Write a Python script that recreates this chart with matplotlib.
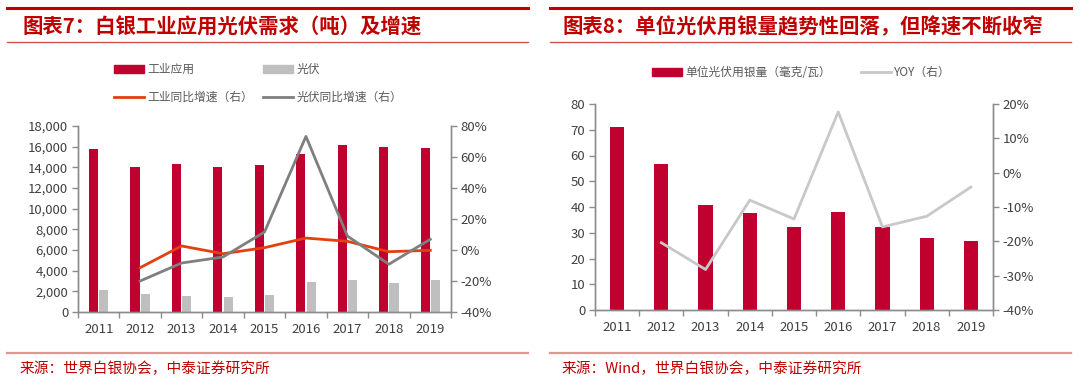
import numpy as np
import matplotlib
matplotlib.use("Agg")
import matplotlib.pyplot as plt
from matplotlib.lines import Line2D
from matplotlib.patches import Patch
from matplotlib.ticker import FuncFormatter, MultipleLocator

plt.rcParams['font.family'] = ['Liberation Sans Narrow', 'Noto Sans CJK SC', 'DejaVu Sans']
plt.rcParams['axes.unicode_minus'] = False

years = ['2011', '2012', '2013', '2014', '2015', '2016', '2017', '2018', '2019']

# chart 7: silver demand (tonnes) and growth
industrial = [15800, 14000, 14350, 14000, 14200, 15250, 16130, 15940, 15900]
pv = [2100, 1710, 1550, 1450, 1610, 2870, 3130, 2840, 3060]
industrial_yoy = [np.nan, -11.4, 2.6, -2.4, 1.5, 7.7, 5.6, -1.1, -0.2]
pv_yoy = [np.nan, -20.0, -8.4, -4.5, 11.6, 73.3, 9.0, -9.2, 6.9]

# chart 8: silver per watt (mg/W) and yoy
unit_silver = [71.1, 56.6, 40.6, 37.5, 32.4, 38.1, 32.1, 28.0, 26.7]
unit_yoy = [np.nan, -20.4, -28.2, -8.0, -13.5, 17.7, -15.8, -12.7, -4.2]

RED = '#C0002F'
GRAY_BAR = '#BFBFBF'
ORANGE = '#E2400F'
GRAY_LINE = '#7F7F7F'
LIGHT_LINE = '#C8C8C8'
TITLE_RED = '#C00000'
AX_COL = '#8C8C8C'
TXT = '#404040'
CJK = ['Noto Sans CJK SC', 'DejaVu Sans']

fig = plt.figure(figsize=(10.8, 3.87), dpi=100)
W, H = 1080.0, 387.0


def fx(px):
    return px / W


def fy(py):
    return 1 - py / H


def hline(x0, x1, y, color, lw):
    fig.add_artist(Line2D([fx(x0), fx(x1)], [fy(y), fy(y)], color=color, lw=lw,
                          transform=fig.transFigure))


# frame lines, titles, sources
for x0, x1 in [(7, 528), (550, 1071)]:
    hline(x0, x1, 8, '#C00000', 2.2)
    hline(x0, x1, 42, '#D9504F', 1.0)
    hline(x0, x1, 353, '#E39494', 1.6)

fig.text(fx(22), fy(27), '图表7：白银工业应用光伏需求（吨）及增速', color=TITLE_RED,
         fontsize=14.7, fontweight='bold', family=CJK, va='center', ha='left')
fig.text(fx(563), fy(27), '图表8：单位光伏用银量趋势性回落，但降速不断收窄', color=TITLE_RED,
         fontsize=14.7, fontweight='bold', family=CJK, va='center', ha='left')
fig.text(fx(20), fy(369), '来源：世界白银协会，中泰证券研究所', color='#C00000',
         fontsize=10.6, family=CJK, va='center', ha='left')
fig.text(fx(562), fy(369), '来源：Wind，世界白银协会，中泰证券研究所', color='#C00000',
         fontsize=10.6, family=CJK, va='center', ha='left')


def style_axes(ax, ax2):
    for a in (ax, ax2):
        a.spines['top'].set_visible(False)
        for s in ('left', 'right', 'bottom'):
            a.spines[s].set_color(AX_COL)
            a.spines[s].set_linewidth(1.0)
        a.tick_params(axis='y', colors=AX_COL, labelcolor=TXT, labelsize=9.5,
                      length=4, width=1.0, direction='out', pad=3)
    ax.set_xlim(-0.5, len(years) - 0.5)
    ax.set_xticks(np.arange(len(years)))
    ax.set_xticklabels(years)
    ax.set_xticks(np.arange(len(years) + 1) - 0.5, minor=True)
    ax.tick_params(axis='x', which='major', length=0, labelsize=9.5,
                   labelcolor=TXT, pad=8)
    ax.tick_params(axis='x', which='minor', length=4, color=AX_COL, width=1.0)


pct = FuncFormatter(lambda v, p: '%d%%' % round(v))

# ---- left chart ----
ax1 = fig.add_axes([fx(78), fy(312), fx(451) - fx(78), fy(126) - fy(312)])
ax1b = ax1.twinx()
x = np.arange(len(years))
bw = 0.22
ax1.bar(x - bw / 2 - 0.015, industrial, width=bw, color=RED)
ax1.bar(x + bw / 2 + 0.015, pv, width=bw, color=GRAY_BAR)
ax1.set_ylim(0, 18000)
ax1.yaxis.set_major_locator(MultipleLocator(2000))
ax1.yaxis.set_major_formatter(FuncFormatter(lambda v, p: '{:,.0f}'.format(v)))
ax1b.plot(x, industrial_yoy, color=ORANGE, lw=2.0)
ax1b.plot(x, pv_yoy, color=GRAY_LINE, lw=2.0)
ax1b.set_ylim(-40, 80)
ax1b.yaxis.set_major_locator(MultipleLocator(20))
ax1b.yaxis.set_major_formatter(pct)
style_axes(ax1, ax1b)

leg1 = fig.legend(handles=[Patch(color=RED), Line2D([], [], color=ORANGE, lw=2),
                           Patch(color=GRAY_BAR), Line2D([], [], color=GRAY_LINE, lw=2)],
                  labels=['工业应用', '工业同比增速（右）', '光伏', '光伏同比增速（右）'],
                  ncol=2, loc='upper left', bbox_to_anchor=(fx(114), fy(63)),
                  frameon=False, prop={'family': CJK, 'size': 8.5},
                  handlelength=2.5, handleheight=0.6, handletextpad=0.3,
                  columnspacing=0.9, labelspacing=1.25, borderpad=0, borderaxespad=0)
for t in leg1.get_texts():
    t.set_color('#595959')

# ---- right chart ----
ax2 = fig.add_axes([fx(595), fy(310), fx(993) - fx(595), fy(104) - fy(310)])
ax2b = ax2.twinx()
ax2.bar(x, unit_silver, width=0.32, color=RED)
ax2.set_ylim(0, 80)
ax2.yaxis.set_major_locator(MultipleLocator(10))
ax2b.plot(x, unit_yoy, color=LIGHT_LINE, lw=2.0)
ax2b.set_ylim(-40, 20)
ax2b.yaxis.set_major_locator(MultipleLocator(10))
ax2b.yaxis.set_major_formatter(pct)
style_axes(ax2, ax2b)

leg2 = fig.legend(handles=[Patch(color=RED), Line2D([], [], color=LIGHT_LINE, lw=2)],
                  labels=['单位光伏用银量（毫克/瓦）', 'YOY（右）'],
                  ncol=2, loc='upper left', bbox_to_anchor=(fx(652), fy(66)),
                  frameon=False, prop={'family': CJK, 'size': 8.5},
                  handlelength=2.5, handleheight=0.6, handletextpad=0.3,
                  columnspacing=2.6, borderpad=0, borderaxespad=0)
for t in leg2.get_texts():
    t.set_color('#595959')

fig.savefig('out.png', dpi=100)
